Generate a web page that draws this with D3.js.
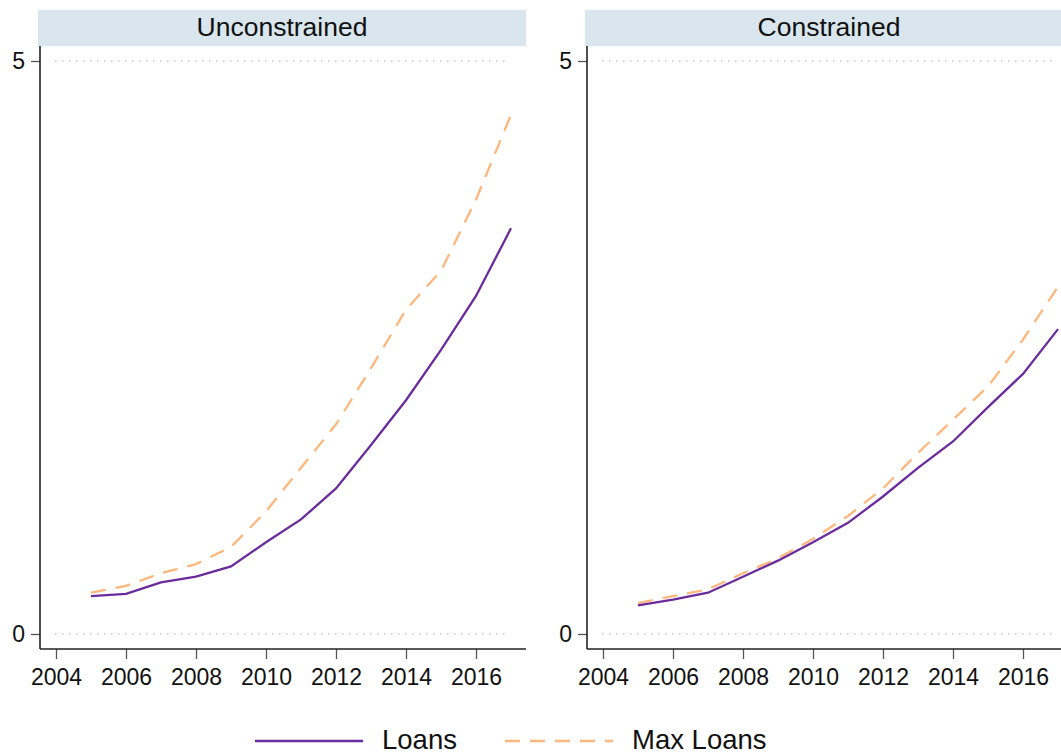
<!DOCTYPE html>
<html>
<head>
<meta charset="utf-8">
<script src="https://cdn.jsdelivr.net/npm/d3@7"></script>
<style>
  html, body { margin: 0; padding: 0; background: #fff; overflow: hidden; }
  svg { display: block; font-family: "Liberation Sans", Arial, sans-serif; }
</style>
</head>
<body>
<svg id="chart" width="1061" height="755"></svg>
<script>
// ---- data ----
const years = [2005, 2006, 2007, 2008, 2009, 2010, 2011, 2012, 2013, 2014, 2015, 2016, 2017];
const panels = ["Unconstrained", "Constrained"];
const unconstrainedLoans    = [0.33, 0.35, 0.45, 0.50, 0.59, 0.80, 1.00, 1.27, 1.65, 2.04, 2.48, 2.95, 3.54];
const unconstrainedMaxLoans = [0.36, 0.42, 0.53, 0.61, 0.76, 1.07, 1.45, 1.83, 2.32, 2.83, 3.17, 3.79, 4.53];
const constrainedLoans      = [0.25, 0.30, 0.36, 0.50, 0.64, 0.80, 0.97, 1.20, 1.45, 1.68, 1.98, 2.27, 2.66];
const constrainedMaxLoans   = [0.27, 0.33, 0.39, 0.53, 0.66, 0.83, 1.03, 1.27, 1.58, 1.87, 2.16, 2.57, 3.03];
const xTicks = [2004, 2006, 2008, 2010, 2012, 2014, 2016];
const yTicks = [0, 5];
const seriesNames = ["Loans", "Max Loans"];

const panelSeries = [
  [unconstrainedLoans, unconstrainedMaxLoans],
  [constrainedLoans, constrainedMaxLoans]
];

// ---- styles ----
const colors = ["#6a2c9c", "#fdb77c"];
const dashes = [null, "15,10"];
const stripFill = "#d9e6ed";

const svg = d3.select("#chart");
const panelLefts = [40, 587];
const panelW = 486;
const plotTop = 46, axisY = 649;

const y = d3.scaleLinear().domain([0, 5]).range([634, 61]);

panels.forEach((name, pi) => {
  const L = panelLefts[pi];
  const x = d3.scaleLinear().domain([2004, 2017]).range([L + 16, L + 16 + 455]);
  const g = svg.append("g");

  // strip
  g.append("rect")
    .attr("x", L - 2).attr("y", 10)
    .attr("width", panelW + 2).attr("height", 36)
    .attr("fill", stripFill);
  g.append("text")
    .attr("x", L - 2 + (panelW + 2) / 2).attr("y", 36)
    .attr("text-anchor", "middle")
    .attr("font-size", 26.5)
    .attr("fill", "#111")
    .text(name);

  // gridlines
  g.selectAll(".grid").data(yTicks).enter().append("line")
    .attr("x1", x(2004) - 1).attr("x2", x(2017) - 4)
    .attr("y1", d => y(d)).attr("y2", d => y(d))
    .attr("stroke", "#c8c8c8")
    .attr("stroke-width", 1.3)
    .attr("stroke-dasharray", "1.5,5.5");

  // y axis
  const yAxis = d3.axisLeft(y).tickValues(yTicks).tickSize(9).tickPadding(6).tickFormat(d3.format("d"));
  const ya = g.append("g").attr("transform", `translate(${L},0)`).call(yAxis);
  ya.select(".domain").remove();
  ya.selectAll(".tick line").attr("stroke", "#555").attr("stroke-width", 1.3);
  ya.selectAll(".tick text").attr("font-size", 23).attr("fill", "#111")
    .attr("font-family", "'Liberation Sans', Arial, sans-serif");
  g.append("line")
    .attr("x1", L).attr("x2", L).attr("y1", plotTop).attr("y2", axisY)
    .attr("stroke", "#222").attr("stroke-width", 1.6);

  // x axis
  const xAxis = d3.axisBottom(x).tickValues(xTicks).tickSize(10).tickPadding(10).tickFormat(d3.format("d"));
  const xa = g.append("g").attr("transform", `translate(0,${axisY})`).call(xAxis);
  xa.select(".domain").remove();
  xa.selectAll(".tick line").attr("stroke", "#555").attr("stroke-width", 1.3);
  xa.selectAll(".tick text").attr("font-size", 23).attr("fill", "#111")
    .attr("font-family", "'Liberation Sans', Arial, sans-serif");
  g.append("line")
    .attr("x1", L).attr("x2", L + panelW).attr("y1", axisY).attr("y2", axisY)
    .attr("stroke", "#222").attr("stroke-width", 1.6);

  // lines (max loans drawn first, loans on top)
  const line = d3.line().x((d, i) => x(years[i])).y(d => y(d));
  [1, 0].forEach(si => {
    g.append("path")
      .datum(panelSeries[pi][si])
      .attr("d", line)
      .attr("fill", "none")
      .attr("stroke", colors[si])
      .attr("stroke-width", 2.3)
      .attr("stroke-dasharray", dashes[si]);
  });
});

// legend
const legendItems = [
  { x1: 255, x2: 363, tx: 382 },
  { x1: 505, x2: 613, tx: 632 }
];
const lg = svg.append("g");
seriesNames.forEach((n, i) => {
  const it = legendItems[i];
  lg.append("line")
    .attr("x1", it.x1).attr("x2", it.x2).attr("y1", 741).attr("y2", 741)
    .attr("stroke", colors[i]).attr("stroke-width", 2.3)
    .attr("stroke-dasharray", dashes[i]);
  lg.append("text")
    .attr("x", it.tx).attr("y", 749)
    .attr("font-size", 27.5).attr("fill", "#111")
    .text(n);
});
</script>
</body>
</html>
